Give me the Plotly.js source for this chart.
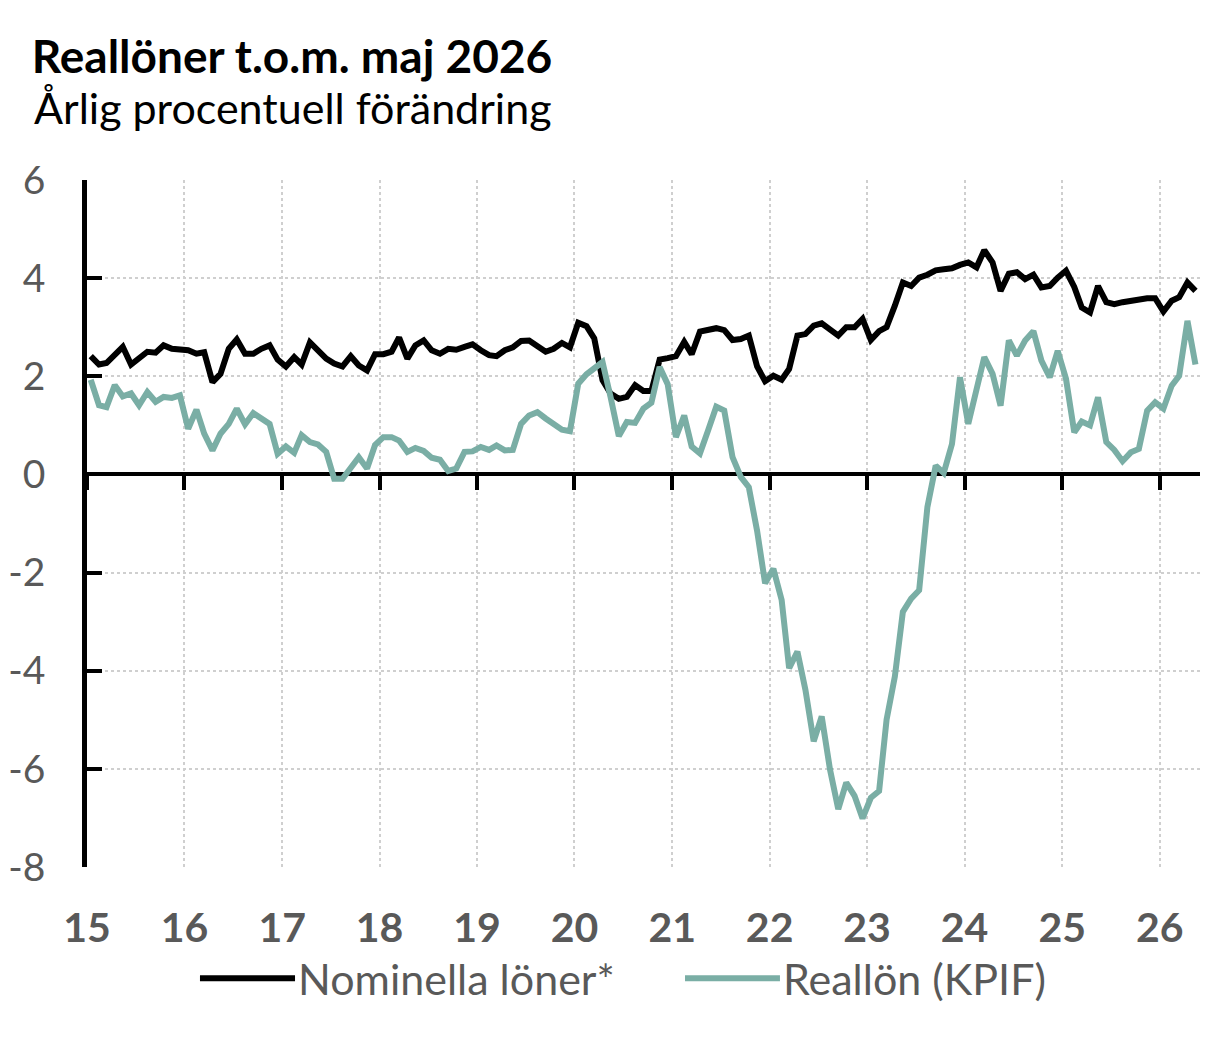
<!DOCTYPE html>
<html lang="sv">
<head>
<meta charset="utf-8">
<title>Reallöner t.o.m. maj 2026</title>
<script src="https://cdn.plot.ly/plotly-3.0.1.min.js"></script>
<style>
  html, body { margin: 0; padding: 0; background: #fff; }
  #chart { width: 1220px; height: 1039px; }
</style>
</head>
<body>
<div id="chart"></div>
<script>
// ---- Data (årlig procentuell förändring, jan 2015 - maj 2026) ----
const firstYear = 2015;
const nMonths = 137;

const nominella = [
  2.41, 2.24, 2.27, 2.46, 2.60, 2.24, 2.36, 2.50, 2.48, 2.63, 2.56, 2.54,
  2.53, 2.46, 2.49, 1.88, 2.05, 2.56, 2.75, 2.46, 2.46, 2.56, 2.63, 2.34,
  2.20, 2.39, 2.24, 2.69, 2.53, 2.36, 2.26, 2.20, 2.41, 2.22, 2.12, 2.45,
  2.45, 2.50, 2.79, 2.36, 2.63, 2.73, 2.53, 2.46, 2.56, 2.54, 2.60, 2.65,
  2.53, 2.43, 2.41, 2.53, 2.59, 2.72, 2.73, 2.61, 2.50, 2.56, 2.68, 2.59,
  3.09, 3.02, 2.77, 1.92, 1.65, 1.54, 1.58, 1.82, 1.70, 1.70, 2.34, 2.37,
  2.41, 2.70, 2.45, 2.91, 2.96, 2.98, 2.94, 2.74, 2.76, 2.83, 2.20, 1.90,
  2.01, 1.93, 2.15, 2.83, 2.86, 3.03, 3.08, 2.96, 2.83, 3.00, 3.00, 3.17,
  2.74, 2.92, 3.00, 3.44, 3.91, 3.84, 4.01, 4.07, 4.16, 4.18, 4.20, 4.27,
  4.32, 4.22, 4.57, 4.32, 3.74, 4.09, 4.12, 3.98, 4.07, 3.81, 3.84, 4.01,
  4.15, 3.82, 3.40, 3.30, 3.84, 3.51, 3.47, 3.51, 3.54, 3.59, 3.59, 3.59,
  3.32, 3.54, 3.61, 3.91, 3.74
];

const reallon = [
  1.93, 1.41, 1.37, 1.82, 1.59, 1.65, 1.41, 1.68, 1.48, 1.58, 1.56, 1.61,
  0.93, 1.32, 0.83, 0.49, 0.83, 1.03, 1.34, 1.02, 1.25, 1.14, 1.03, 0.42,
  0.57, 0.44, 0.80, 0.66, 0.61, 0.46, -0.09, -0.09, 0.15, 0.35, 0.12, 0.60,
  0.76, 0.76, 0.69, 0.46, 0.54, 0.48, 0.34, 0.30, 0.07, 0.12, 0.46, 0.47,
  0.56, 0.50, 0.59, 0.49, 0.50, 1.03, 1.20, 1.27, 1.14, 1.03, 0.91, 0.88,
  1.85, 2.04, 2.16, 2.29, 1.58, 0.78, 1.07, 1.05, 1.34, 1.46, 2.19, 1.84,
  0.76, 1.20, 0.57, 0.43, 0.89, 1.38, 1.30, 0.35, -0.05, -0.26, -1.15, -2.22,
  -1.92, -2.56, -3.95, -3.61, -4.39, -5.44, -4.93, -6.01, -6.82, -6.28, -6.55, -7.01,
  -6.59, -6.45, -5.00, -4.12, -2.80, -2.53, -2.36, -0.66, 0.18, 0.03, 0.62, 1.98,
  1.03, 1.71, 2.39, 2.05, 1.40, 2.73, 2.42, 2.73, 2.92, 2.32, 1.98, 2.52,
  1.95, 0.86, 1.08, 1.00, 1.57, 0.66, 0.50, 0.27, 0.45, 0.52, 1.30, 1.47,
  1.34, 1.81, 2.01, 3.13, 2.24
];

const yearTicks = ['2015-01-01', '2016-01-01', '2017-01-01', '2018-01-01', '2019-01-01', '2020-01-01',
  '2021-01-01', '2022-01-01', '2023-01-01', '2024-01-01', '2025-01-01', '2026-01-01'];
const yearLabels = ['15', '16', '17', '18', '19', '20', '21', '22', '23', '24', '25', '26'];
const yTicks = [-8, -6, -4, -2, 0, 2, 4, 6];
const yLabels = ['-8', '-6', '-4', '-2', '0', '2', '4', '6'];
const seriesNames = ['Nominella löner*', 'Reallön (KPIF)'];
const seriesColors = ['#000000', '#7aaea5'];

// Månader (mitten av varje månad)
const months = [];
for (let i = 0; i < nMonths; i++) {
  const y = firstYear + Math.floor(i / 12);
  const m = (i % 12) + 1;
  months.push(y + '-' + String(m).padStart(2, '0') + '-15');
}

const xRange = ['2015-01-01', '2026-06-01'];
const gray = '#595959';
const font = 'Lato, "Open Sans", sans-serif';

const traceNom = {
  x: months,
  y: nominella,
  name: seriesNames[0],
  type: 'scatter',
  mode: 'lines',
  line: { color: seriesColors[0], width: 6 },
  hoverinfo: 'x+y+name'
};

const traceReal = {
  x: months,
  y: reallon,
  name: seriesNames[1],
  type: 'scatter',
  mode: 'lines',
  xaxis: 'x2',
  line: { color: seriesColors[1], width: 6 },
  hoverinfo: 'x+y+name'
};

// legend drawn by hand to get the long line samples
const legendY = -0.162;
const legendItems = [
  { x0: 0.1015, x1: 0.1869, tx: 0.188 },
  { x0: 0.5373, x1: 0.6226, tx: 0.6236 }
];

const shapes = legendItems.map((it, i) => ({
  type: 'line', xref: 'paper', yref: 'paper',
  x0: it.x0, x1: it.x1, y0: legendY, y1: legendY,
  line: { color: seriesColors[i], width: 6 }
}));

const annotations = legendItems.map((it, i) => ({
  xref: 'paper', yref: 'paper', x: it.tx, y: legendY,
  xanchor: 'left', yanchor: 'middle', showarrow: false,
  text: seriesNames[i],
  font: { family: font, size: 43, color: gray }
}));

annotations.push({
  xref: 'paper', yref: 'paper', x: -0.0494, y: 1.105,
  xanchor: 'left', yanchor: 'middle', showarrow: false,
  text: 'Årlig procentuell förändring',
  font: { family: font, size: 43, color: '#000' }
});

const layout = {
  width: 1220,
  height: 1039,
  paper_bgcolor: '#fff',
  plot_bgcolor: '#fff',
  margin: { l: 87, r: 20, t: 180, b: 172 },
  showlegend: false,
  font: { family: font, color: gray },
  title: {
    text: 'Reallöner t.o.m. maj 2026',
    xref: 'container', yref: 'container',
    x: 0.026, xanchor: 'left',
    y: 0.945, yanchor: 'middle',
    font: { family: font, size: 46, weight: 'bold', color: '#000' }
  },
  xaxis: {
    type: 'date',
    range: xRange,
    tickvals: yearTicks,
    ticktext: yearLabels,
    ticks: '',
    showline: false,
    zeroline: false,
    showgrid: true,
    gridcolor: '#cfcfcf',
    gridwidth: 2,
    griddash: 'dot',
    tickfont: { family: font, size: 41, weight: 'bold', color: gray },
    ticklabelstandoff: 33,
    fixedrange: true
  },
  xaxis2: {
    type: 'date',
    range: xRange,
    overlaying: 'x',
    anchor: 'free',
    position: 8 / 14,
    tickvals: yearTicks,
    showticklabels: false,
    ticks: 'outside',
    ticklen: 14,
    tickwidth: 4,
    tickcolor: '#000',
    showline: true,
    linecolor: '#000',
    linewidth: 3.5,
    showgrid: false,
    zeroline: false,
    layer: 'below traces',
    fixedrange: true
  },
  yaxis: {
    range: [-8, 6],
    tickvals: yTicks,
    ticktext: yLabels,
    ticks: 'inside',
    ticklen: 15,
    tickwidth: 4,
    tickcolor: '#000',
    showline: true,
    linecolor: '#000',
    linewidth: 4.5,
    zeroline: false,
    showgrid: true,
    gridcolor: '#cfcfcf',
    gridwidth: 2,
    griddash: 'dot',
    tickfont: { family: font, size: 39, color: gray },
    ticklabelstandoff: 29,
    fixedrange: true
  },
  shapes: shapes,
  annotations: annotations,
  hovermode: 'x unified'
};

Plotly.newPlot('chart', [traceNom, traceReal], layout, { displayModeBar: false });
</script>
</body>
</html>
